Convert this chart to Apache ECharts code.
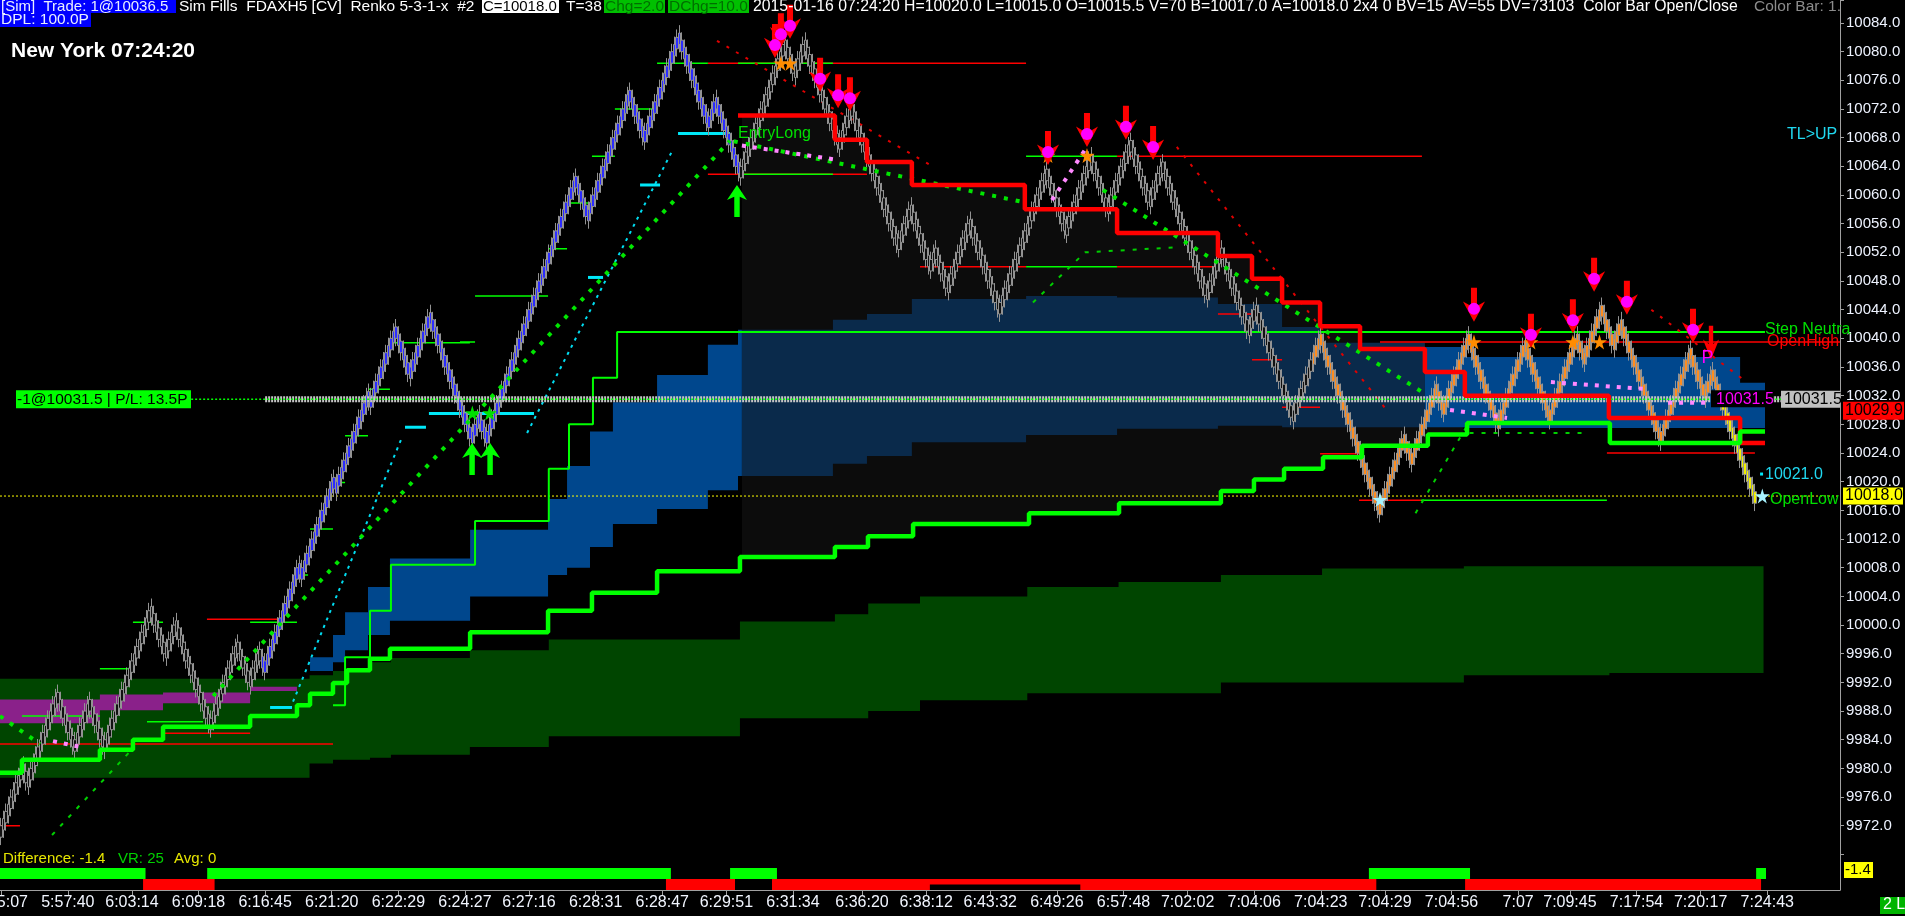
<!DOCTYPE html>
<html><head><meta charset="utf-8">
<script src="https://cdn.jsdelivr.net/npm/echarts@6/dist/echarts.min.js"></script>
<style>html,body{margin:0;padding:0;background:#000;overflow:hidden}#c{width:1905px;height:916px}</style>
</head><body><div id="c"></div><script>
// ---------------- DATA ----------------
const N = 746;                 // bar slots on the time axis
const brickSize = 1;
const startPrice = 9972;
// renko reversal points (price)
const pivots = [9980, 9978, 9990, 9983, 9989, 9983, 10002, 9996, 10000, 9986, 9997, 9992, 9996, 9994,
  10008, 10007, 10020, 10019, 10032, 10031, 10041, 10035, 10043, 10026, 10029, 10026, 10062, 10057, 10074, 10068,
  10082, 10070, 10073, 10063, 10081, 10077, 10081, 10067, 10072, 10053, 10058, 10050, 10052, 10047, 10056, 10044,
  10063, 10055, 10065, 10058, 10067, 10059, 10064, 10046, 10052, 10041, 10044, 10029, 10040, 10016,
  10026, 10023, 10033, 10030, 10040, 10028, 10039, 10029, 10040, 10037, 10044, 10039, 10042, 10026, 10038,
  10032, 10035, 10017];

const timeTickIdx = [0,27,53,80,107,134,161,188,214,241,268,294,321,349,375,401,428,455,481,508,535,561,588,615,636,663,689,716];
const timeTickLabels = ['5:55:07','5:57:40','6:03:14','6:09:18','6:16:45','6:21:20','6:22:29','6:24:27','6:27:16','6:28:31','6:28:47','6:29:51','6:31:34','6:36:20','6:38:12','6:43:32','6:49:26','6:57:48','7:02:02','7:04:06','7:04:23','7:04:29','7:04:56','7:07','7:09:45','7:17:54','7:20:17','7:24:43'];

// bands: [fromIdx, toIdx, low, high]
const darkGreenBand = [[-0.5,125,9978.7,9992.5],[125,134.5,9980.7,9993],[134.5,149.5,9981.2,9993.6],[149.5,158,9981.5,9994.8],
  [158,190,9981.9,9995.4],[190,222,9983,9996.5],[222,299.5,9984.5,9998],[299.5,338,9987,10000.5],[338,351.5,9987,10001.5],
  [351.5,372.5,9988,10003],[372.5,416,9989.5,10004],[416,453,9990.5,10005.3],[453,494.5,9990.5,10006],[494.5,535.5,9992,10007],
  [535.5,593,9992,10007.9],[593,652,9993,10008.2],[652,714.5,9993.3,10008.2]];
const purpleBand = [[-0.5,40,9986.3,9989.6],[40,65.6,9988.1,9990.3],[65.6,100.9,9989.1,9990.6],[100.9,119.9,9990.8,9991.4]];
const blueBand = [[125.2,134.5,9993.6,9995.5],[134.5,139.4,9994.8,9998.6],[139.4,148.7,9996.5,10001.8],[148.7,157.6,9998.6,10005.3],
  [157.6,190.1,10000.6,10009.3],[190.1,221.7,10004,10013.3],[221.7,229.4,10007,10017.6],[229.4,238.7,10008,10022.2],
  [238.7,248,10010.9,10027],[248,265.9,10014.1,10031.1],[265.9,286.5,10016.2,10034.9],[286.5,298.7,10018.8,10039.1],[298.7,300.3,10020.8,10041.2]];
const blueBandShaded = [[300.3,337.2,10020.8,10041.2],[337.2,351,10022.5,10042.6],[351,369.2,10023.6,10043.4],[369.2,415.5,10025.5,10045.5],
  [415.5,452.4,10026.5,10045.9],[452.4,493.3,10027.4,10045.7],[493.3,519.3,10027.8,10044.8],[519.3,534.7,10027.6,10041.6],[534.7,577.2,10027.6,10039.4]];
const blueBandLate = [[577.2,593.4,10027.6,10038.8],[593.4,705,10027.5,10037.4],[705,715.1,10027.5,10033.8]];

// step lines: [fromIdx, value]
const redStep = [[298.7,10071.1],[338,10067.7],[351,10064.6],[369.2,10061.4],[415,10058],[452.4,10054.7],[493.3,10051.5],[507.1,10048.3],
  [519.3,10045],[534.7,10041.7],[550.9,10038.5],[577.2,10035.3],[593.4,10032],[651.8,10028.9],[705,10025.4],[715.1,10025.4]];
const greenStep = [[-0.5,9979.4],[8.4,9981.2],[40,9982.6],[53.4,9984],[65.6,9985.8],[100.9,9987.3],[119.9,9988.8],[125.2,9990.4],
  [134.5,9991.9],[140.2,9993.7],[149.5,9995.3],[157.6,9996.7],[190.1,9999],[221.7,10002],[239.5,10004.5],[265.9,10007.5],
  [299.5,10009.5],[338,10010.9],[351.4,10012.4],[369.7,10014.1],[416.7,10015.6],[453.2,10017],[494.5,10018.7],[507.9,10020.3],
  [520.1,10021.8],[535.9,10023.4],[551.7,10025],[578.4,10026.6],[594.3,10028.2],[652.2,10025.4],[705,10027],[715.1,10027]];
const neutralStep = [[134.5,9988.8],[139.4,9995.5],[149.5,10002],[158,10008.4],[192.1,10014.5],[222,10021.8],[230.2,10028],
  [239.9,10034.5],[249.7,10040.9],[745.5,10040.9]];

// horizontal levels: [fromIdx, toIdx, value]
const redLevels = [[-0.5,134.5,9983.4],[-0.5,7.6,9972],[286.5,415.5,10078.4],[452.4,576,10065.4],[559,745.5,10039.5],[286.5,351,10062.9],
  [651,711,10024],[550.5,575.6,10017.4],[372.5,415.5,10050],[452.4,493,10050],[493.3,507.1,10043.4],[507.1,519.3,10037],
  [519.3,534.7,10030.4],[534.7,550.9,10023.9],[83.4,113,10000.8],[65.6,100.9,9984.9]];
const greenLevels = [[265.9,286.5,10078.4],[298.7,337.2,10078.4],[415.5,452.4,10065.4],[298.7,337.2,10062.9],[575.6,651,10017.4],
  [415.5,452.4,10050],[158,190,10039.4],[148.7,157.6,10032.9],[139.4,148.7,10026.4],[134.5,139.4,10019.9],[125.2,134.5,10013.4],
  [119.9,124.4,10007],[100.9,119.9,10000.4],[53.4,65.6,10000.4],[40,53,9993.9],[8.4,40,9987.3],[59.1,81.8,9986.5],
  [186,192.1,10039.5],[192.1,221.7,10045.9],[221.7,229.4,10052.5],[229.4,239.5,10058.9],[239.5,248.8,10065.4],[248.8,265.9,10072]];
const cyanLevels = [[163.7,172.2,10027.6],[173.4,216,10029.5],[109,117.9,9988.5],[274.4,295.5,10068.6],[259,267.1,10061.4],[237.9,244,10048.5]];
const lastPrice = 10018;
const positionPrice = 10031.5;
const positionFrom = 107, positionTo = 721.5;

// trend / trail lines: [[idx, value], [idx, value], ...]
const greenTrendLines = [[[-0.5,9987.3],[15.7,9983.4]], [[85.9,9990.1],[295.5,10067.6]], [[297,10067.5],[415.9,10058.9]], [[446.7,10060.7],[578,10032.1]]];
const pinkTrendLines = [[[21,9983.8],[31.9,9983]], [[300.3,10066.9],[337.2,10065]], [[426,10059.3],[439.4,10066.3]],
  [[587.4,10030],[610.5,10028.9]], [[628.3,10033.9],[667.6,10032.9]], [[675.8,10031],[692,10031]]];
const cyanTrails = [[[118.3,9989.3],[162.5,10026.2]], [[213.2,10026.8],[272.4,10066.4]]];
const redTrails = [[[290.2,10081.5],[376.5,10064.2]], [[476.6,10066.7],[561.7,10030]], [[669,10044],[708,10033.8]]];
const greenTrails = [[[20.6,9970.7],[53.4,9982.8]], [[418.3,10045],[439.4,10052],[476.5,10052.7]], [[573.4,10015.6],[594.1,10027.7]], [[595.3,10026.8],[641.5,10026.8]]];

// signals
const sellArrows = [[313.7,10079.1],[316.1,10080.6],[319.8,10081.8],[332,10074.4],[339.3,10072.1],[344.1,10071.7],[424.4,10064.2],
  [440.2,10066.7],[456,10067.7],[467,10064.9],[597.1,10042.3],[620.2,10038.7],[637.2,10040.7],[645.8,10046.5],[659.1,10043.3],[685.9,10039.4]];
const plainSellArrows = [[693.2,10037]];
const buyArrows = [[190.9,10025.4],[198.2,10025.4],[298.3,10061.4]];
const orangeStars = [[316.1,10078.4],[319.8,10078.4],[424.4,10065.5],[440.2,10065.5],[597.1,10039.5],[620.2,10039.5],[637.2,10039.5],[648,10039.5]];
const cyanStars = [[559,10017.5],[714,10018]];
const greenStars = [[191,10029.6],[198,10029.6]];

// lower indicator runs (brick index ranges)
const greenRuns = [[0,58],[84,271],[296,314],[555,595],[712,715]];
const redRuns = [[58,86],[270,297],[313,376],[438,557],[594,713]];
const redThinRuns = [[376,438]];

// ---------------- BUILD ----------------
const bricks = [startPrice];
{ let p = startPrice; for (const t of pivots) { const d = Math.sign(t - p); while (p !== t) { p += d * brickSize; bricks.push(p); } } }
const categories = Array.from({length: N}, (_, i) => String(i));
const labelMap = {}; timeTickIdx.forEach((v, i) => labelMap[v] = timeTickLabels[i]);

const FONT = '"Liberation Sans", Arial, Helvetica, sans-serif';
const phaseFill = [[0,'#111111'],[106,'#2b2bff'],[300,'#111111'],[532,'#ff8c1e'],[698,'#f2f000']];
function fillFor(i){ let f = phaseFill[0][1]; for (const [s, c] of phaseFill) if (i >= s) f = c; return f; }
const bodyExt = 1.6, wickExt = 1.1;
const candleData = bricks.map((c, i) => {
  const prev = i ? bricks[i-1] : c - brickSize;
  const d = c >= prev ? 1 : -1;
  const o = c - d * bodyExt;
  const f = fillFor(i);
  return {value: [o, c, Math.min(o, c) - wickExt, Math.max(o, c) + wickExt],
          itemStyle: {color: f, color0: f, borderColor: '#939393', borderColor0: '#939393', borderWidth: 1}};
});

function bandPts(segs){ const top = [], bot = []; segs.forEach(([a,b,lo,hi]) => { top.push([a,hi],[b,hi]); bot.push([a,lo],[b,lo]); }); return top.concat(bot.reverse()); }
function stepVal(steps, x){ let v = steps[0][1]; for (const [sx, sv] of steps) { if (sx <= x) v = sv; else break; } return v; }
function stepPath(steps, a, b){ const pts = [[a, stepVal(steps, a)]]; for (const [sx, sv] of steps) { if (sx > a && sx < b) { pts.push([sx, pts[pts.length-1][1]]); pts.push([sx, sv]); } } pts.push([b, pts[pts.length-1][1]]); return pts; }
const channelPts = stepPath(redStep, 300.3, 592.6).concat(stepPath(greenStep, 300.3, 592.6).reverse());

function poly(pts, color, z){
  return {type:'custom', xAxisIndex:1, yAxisIndex:0, z, silent:true, clip:true, data:[[0, 10000]],
    renderItem:(params, api) => ({type:'polygon', shape:{points: pts.map(p => api.coord(p))}, style:{fill: color}})};
}
function line(data, color, width, type, z, extra){
  return Object.assign({type:'line', xAxisIndex:1, yAxisIndex:0, data, symbol:'none', silent:true, z, clip:true,
    lineStyle:{color, width, type, cap:'butt'}}, extra || {});
}
function levels(arr, color, width, z){ return arr.map(([a,b,v]) => line([[a,v],[b,v]], color, width, 'solid', z)); }
function runs(arr, color, top, bottom){
  return {type:'custom', xAxisIndex:2, yAxisIndex:1, z:5, silent:true, data: arr,
    renderItem:(params, api) => { const p0 = api.coord([api.value(0) - 0.5, top]); const p1 = api.coord([api.value(1) + 0.5, bottom]);
      return {type:'rect', shape:{x:p0[0], y:p0[1], width:p1[0]-p0[0], height:p1[1]-p0[1]}, style:{fill: color}}; }};
}
function marks(data, symbol, size, color, z, offset){
  return {type:'scatter', xAxisIndex:1, yAxisIndex:0, data, symbol, symbolSize:size, symbolOffset:offset || [0,0], itemStyle:{color, opacity:1}, silent:true, z};
}
const downArrow = 'path://M7,0 L13,0 L13,16 L21,12 L10,30 L-1,12 L7,16 Z';
const upArrow = 'path://M10,0 L21,14 L13,11 L13,30 L7,30 L7,11 L-1,14 Z';
const star = 'path://M50,0 L61,35 L98,35 L68,57 L79,91 L50,70 L21,91 L32,57 L2,35 L39,35 Z';

const series = [
  poly(bandPts(darkGreenBand), '#004500', 1),
  poly(bandPts(purpleBand), '#8a218a', 2),
  poly(channelPts, '#0c0c0c', 3),
  poly(bandPts(blueBand), '#00478d', 4),
  poly(bandPts(blueBandShaded), '#0a2a4b', 4),
  poly(bandPts(blueBandLate), '#00478d', 4),
  line([[-0.5,lastPrice],[N-0.5,lastPrice]], '#ffff00', 1, [2,2], 5),
  ...levels(redLevels, '#ff0000', 1.5, 5),
  ...levels(greenLevels, '#00ff00', 1.5, 5),
  ...levels(cyanLevels, '#00e8f8', 3, 6),
  line(neutralStep, '#00ff00', 2, 'solid', 6, {step:'end'}),
  ...cyanTrails.map(d => line(d, '#00dcf0', 2, [3,5], 7)),
  ...redTrails.map(d => line(d, '#e00000', 2, [3,8], 7)),
  ...greenTrails.map(d => line(d, '#00d000', 2, [4,8], 7)),
  {type:'candlestick', xAxisIndex:0, yAxisIndex:0, data:candleData, barWidth:3, large:false, progressive:0, silent:true, z:8},
  line([[positionFrom,positionPrice],[positionTo,positionPrice]], '#c4c4c4', 6, [2,1], 9),
  line([[77,positionPrice],[N-0.5,positionPrice]], '#00ff00', 1.5, [2,2], 10),
  ...greenTrendLines.map(d => line(d, '#00e600', 4, [4,8], 11)),
  ...pinkTrendLines.map(d => line(d, '#ff88ff', 4, [4,7], 11)),
  line(redStep, '#ff0000', 4.5, 'solid', 12, {step:'end'}),
  line(greenStep, '#00ff00', 4.5, 'solid', 12, {step:'end'}),
  marks(orangeStars, star, 15, '#ff8c00', 12.5),
  marks(cyanStars, star, 15, '#a8f4ff', 12.5),
  marks(greenStars, star, 15, '#00e000', 12.5),
  marks(sellArrows, downArrow, [22,34], '#ff0000', 13, [0,'-50%']),
  marks(sellArrows, 'circle', 12, '#ff00ff', 14, [0,-13]),
  marks(plainSellArrows, downArrow, [16,34], '#ff0000', 13, [0,'-50%']),
  marks(buyArrows, upArrow, [20,32], '#00ff00', 13, [0,'50%']),
  runs(greenRuns, '#00ff00', 2, 1),
  runs(redRuns, '#ff0000', 1, 0),
  runs(redThinRuns, '#ff0000', 1, 0.5)
];

const yMax = 10084 + 23 / 7.167;
const option = {
  backgroundColor:'#000', animation:false,
  grid:[{left:0, right:65, top:0, height:854.4, containLabel:false, outerBoundsMode:'none'},
        {left:0, right:65, top:868, height:22, containLabel:false, outerBoundsMode:'none'}],
  xAxis:[
    {type:'category', gridIndex:0, data:categories, boundaryGap:true, show:false},
    {type:'value', gridIndex:0, min:-0.5, max:N-0.5, show:false},
    {type:'value', gridIndex:1, min:-0.5, max:N-0.5, position:'bottom',
      axisLine:{show:true, onZero:false, lineStyle:{color:'#a0a0a0', width:1}},
      axisTick:{show:true, customValues:timeTickIdx, length:5, lineStyle:{color:'#a0a0a0'}},
      axisLabel:{show:true, customValues:timeTickIdx, formatter:v => labelMap[Math.round(v)] || '', color:'#f2f6ff', fontSize:16, fontFamily:FONT, margin:5, hideOverlap:false},
      splitLine:{show:false}}
  ],
  yAxis:[
    {type:'value', gridIndex:0, position:'right', min:9968, max:yMax, interval:4,
      axisLine:{show:true, onZero:false, lineStyle:{color:'#a0a0a0', width:1}},
      axisTick:{show:true, length:4, lineStyle:{color:'#a0a0a0'}},
      axisLabel:{show:true, margin:6, color:'#eef3ff', fontSize:15, fontFamily:FONT,
        formatter:v => (v > 9970 && Math.abs(v/4 - Math.round(v/4)) < 1e-6) ? v.toFixed(1) : ''},
      splitLine:{show:false}},
    {type:'value', gridIndex:1, position:'right', min:0, max:2,
      axisLine:{show:true, onZero:false, lineStyle:{color:'#a0a0a0', width:1}}, axisTick:{show:false}, axisLabel:{show:false}, splitLine:{show:false}}
  ],
  series
};
const chart = echarts.init(document.getElementById('c'));
chart.setOption(option);

// ---------------- ANNOTATIONS ----------------
function yOf(v){ return chart.convertToPixel({yAxisIndex:0}, v); }
function xOf(i){ return chart.convertToPixel({xAxisIndex:1}, i); }
function T(x, y, text, fill, size, bold){ return {type:'text', x, y, silent:true, z:100,
  style:{text, fill, font:(bold ? 'bold ' : '') + size + 'px ' + FONT, textAlign:'left', align:'left', textVerticalAlign:'middle', verticalAlign:'middle'}}; }
function R(x, y, w, h, fill){ return {type:'rect', shape:{x, y, width:w, height:h}, silent:true, z:99, style:{fill}}; }
const g = [];
// header
g.push(R(0,0,176,13,'#0000ff'), T(1,7,'[Sim]  Trade: 1@10036.5','#e8eeff',15));
g.push(T(179,7,'Sim Fills  FDAXH5 [CV]  Renko 5-3-1-x  #2','#ffffff',15.5));
g.push(R(482,0,77,13,'#ffffff'), T(483,7,'C=10018.0','#000000',15));
g.push(T(566,7,'T=38','#ffffff',15.5));
g.push(R(604,0,61,13,'#00c000'), T(605,7,'Chg=2.0','#006e00',15.5));
g.push(R(668,0,81,13,'#00c000'), T(669,7,'DChg=10.0','#006e00',15.5));
g.push(T(753,7,'2015-01-16 07:24:20 H=10020.0 L=10015.0 O=10015.5 V=70 B=10017.0 A=10018.0 2x4 0 BV=15 AV=55 DV=73103  Color Bar Open/Close','#ffffff',15.8));
g.push(T(1754,7,'Color Bar: 1.','#8c8c8c',15.5));
g.push(R(0,13,91,14,'#0000ff'), T(1,20,'DPL: 100.0P','#e8eeff',15.5));
g.push(T(11,51,'New York 07:24:20','#ffffff',21,true));
// position labels
const yPos = yOf(positionPrice);
g.push(R(16,yPos-9,175,18,'#00ff00'), T(17,yPos,'-1@10031.5 | P/L: 13.5P','#000000',15.5));
g.push(R(1711,yPos-9,62,17,'#000000'), T(1716,yPos,'10031.5','#ff00ff',16));
g.push(R(1781,yPos-8.5,59,17,'#c0c0c0'), T(1784,yPos,'10031.5','#000000',16));
const yRed = yOf(10029.9);
g.push(R(1843,yRed-9,61,18,'#ff0000'), T(1845,yRed,'10029.9','#000000',16));
const yLast = yOf(lastPrice);
g.push(R(1843,yLast-8.5,60,17,'#ffff00'), T(1845,yLast,'10018.0','#000000',16));
g.push(R(1844,862,29,16,'#ffff00'), T(1845,870,'-1.4','#000000',15));
g.push(R(1880,897,25,17,'#00b400'), T(1883,905,'2 L','#ffffff',16));
// right side texts
g.push(T(1787,yOf(10068.4),'TL>UP','#20d8f0',16));
g.push(T(1767,342,'OpenHigh','#ff0000',16));
g.push(R(1765,322,75,18,'#000000'), T(1765,yOf(10041.2),'Step Neutra','#00e000',16));
g.push(R(xOf(713.9)-2,yOf(10021)-2,3,3,'#00e8f8'), T(1765,yOf(10021),'10021.0','#20d8f0',16));
g.push(T(1770,yOf(10017.5),'OpenLow','#00e000',16));
g.push(T(738,yOf(10068.6),'EntryLong','#00e000',16));
g.push(T(xOf(689.3),yOf(10037.2),'P','#ff00ff',18));
// lower pane texts
g.push(T(3,859,'Difference: -1.4','#e6e600',15), T(118,859,'VR: 25','#00d000',15), T(174,859,'Avg: 0','#e6e600',15));
// frame gap
g.push({type:'line', shape:{x1:1840.5, y1:850, x2:1840.5, y2:870}, silent:true, z:99, style:{stroke:'#a0a0a0', lineWidth:1}});
chart.setOption({graphic:{elements:g}});
</script></body></html>
